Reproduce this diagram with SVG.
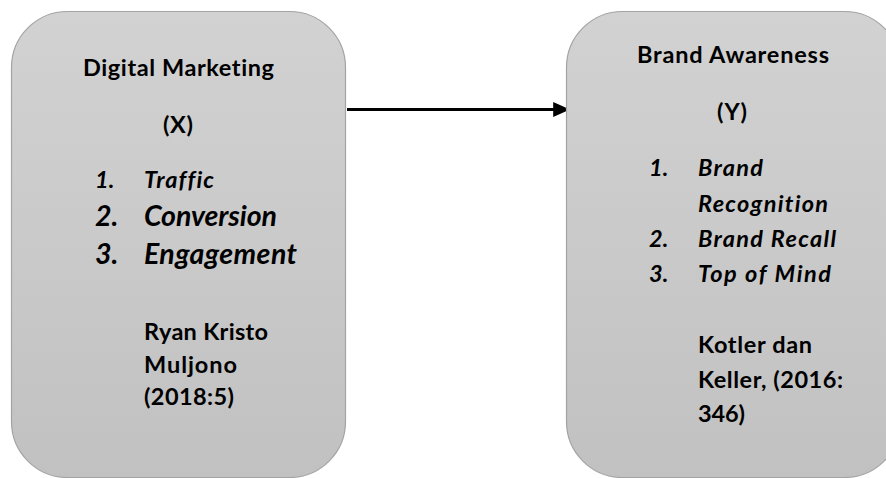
<svg xmlns="http://www.w3.org/2000/svg" width="886" height="478" viewBox="0 0 886 478">
  <defs>
    <linearGradient id="boxFill" x1="0" y1="0" x2="0" y2="1">
      <stop offset="0" stop-color="#d2d2d2"/>
      <stop offset="1" stop-color="#c1c1c1"/>
    </linearGradient>
    <marker id="arrowHead" markerWidth="6" markerHeight="6" refX="5.6" refY="2.5" orient="auto" markerUnits="strokeWidth">
      <path d="M0,0 L5.6,2.5 L0,5 Z" fill="#000"/>
    </marker>
  </defs>
  <style>
    .box { fill: url(#boxFill); stroke: #a3a3a3; stroke-width: 1.2; }
    text { font-family: Lato, "Liberation Sans", sans-serif; font-weight: bold; fill: #000; font-size: 23.5px; font-variant-ligatures: none; }
    .it { font-style: italic; }
    .big { font-size: 28.5px; }
    .conn { stroke: #000; stroke-width: 3; fill: none; }
  </style>

  <g id="connectors">
    <line class="conn" x1="347" y1="109.5" x2="570" y2="109.5" marker-end="url(#arrowHead)"/>
  </g>

  <g id="node-digital-marketing">
    <rect class="box" x="11.5" y="11.5" width="334" height="466" rx="56" ry="56"/>
    <text x="83" y="76" textLength="191">Digital Marketing</text>
    <text x="163" y="133" textLength="30">(X)</text>
    <text class="it" x="95" y="188">1.</text>
    <text class="it" x="144" y="188" textLength="70">Traffic</text>
    <text class="it big" x="95" y="226">2.</text>
    <text class="it big" x="144" y="226" textLength="133">Conversion</text>
    <text class="it big" x="95" y="264">3.</text>
    <text class="it big" x="144" y="264" textLength="153">Engagement</text>
    <text x="144" y="340" textLength="124">Ryan Kristo</text>
    <text x="144" y="373" textLength="93">Muljono</text>
    <text x="144" y="405" textLength="90">(2018:5)</text>
  </g>

  <g id="node-brand-awareness">
    <rect class="box" x="566.5" y="11.5" width="334" height="466" rx="56" ry="56"/>
    <text x="637" y="63" textLength="192">Brand Awareness</text>
    <text x="717" y="120" textLength="30">(Y)</text>
    <text class="it" x="649" y="176">1.</text>
    <text class="it" x="698" y="176" textLength="65">Brand</text>
    <text class="it" x="698" y="212" textLength="130">Recognition</text>
    <text class="it" x="649" y="247">2.</text>
    <text class="it" x="698" y="247" textLength="138">Brand Recall</text>
    <text class="it" x="649" y="282">3.</text>
    <text class="it" x="698" y="282" textLength="133">Top of Mind</text>
    <text x="698" y="353" textLength="114">Kotler dan</text>
    <text x="698" y="388" textLength="145">Keller, (2016:</text>
    <text x="698" y="422" textLength="47">346)</text>
  </g>
</svg>
